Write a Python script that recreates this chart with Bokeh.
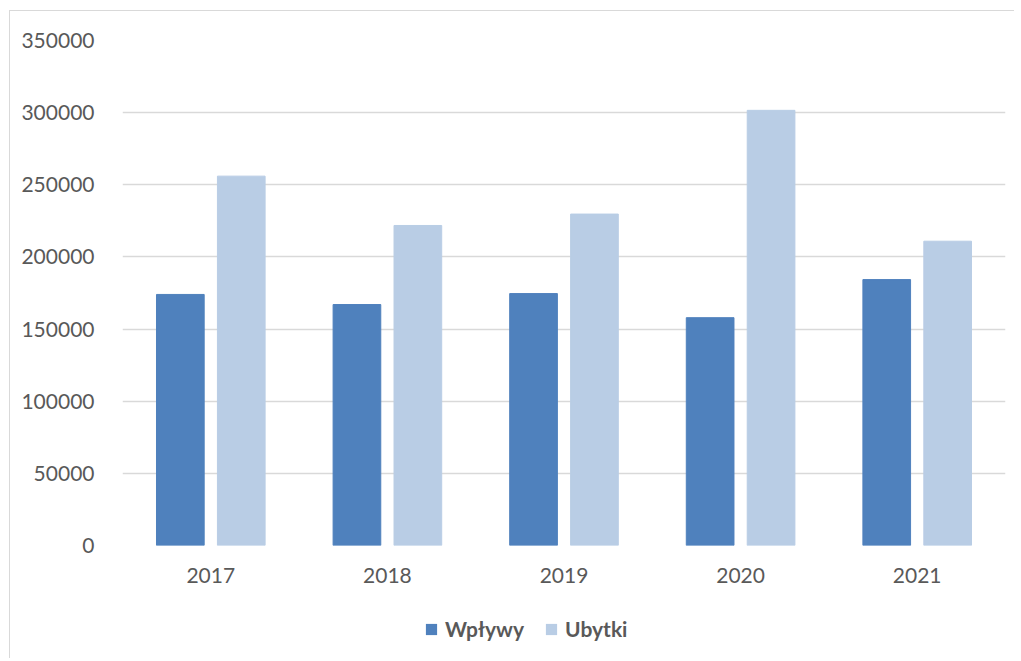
from bokeh.plotting import figure
from bokeh.layouts import column
from bokeh.models import (Range1d, FactorRange, Legend, LegendItem, ColumnDataSource,
                          FixedTicker, NumeralTickFormatter)
from bokeh.transform import dodge
from bokeh.embed import file_html
from bokeh.resources import INLINE

years = ["2017", "2018", "2019", "2020", "2021"]
wplywy = [174000, 167000, 174600, 157900, 184300]
ubytki = [256000, 221800, 229700, 301600, 210900]
series_names = ["Wpływy", "Ubytki"]
y_ticks = [0, 50000, 100000, 150000, 200000, 250000, 300000, 350000]

FONT = "Lato"
TXT = "#595959"
GRID = "#D9D9D9"
C1 = "#4F81BD"
C2 = "#B9CDE5"

src = ColumnDataSource(data=dict(year=years, wplywy=wplywy, ubytki=ubytki))

p = figure(width=1005, height=590, output_backend="svg", toolbar_location=None,
           x_range=FactorRange(*years, range_padding=0),
           y_range=Range1d(0, 350000),
           min_border_left=112, min_border_right=10, min_border_top=29, min_border_bottom=56)
p.margin = (10, 0, 0, 9)
p.styles = {"border-left": "1px solid #D9D9D9", "border-top": "1px solid #D9D9D9"}
p.outline_line_color = None
p.background_fill_color = "white"
p.border_fill_color = "white"

p.vbar(x=dodge("year", -0.1725, range=p.x_range), top="wplywy", width=0.27,
       source=src, fill_color=C1, line_color=C1)
p.vbar(x=dodge("year", 0.1725, range=p.x_range), top="ubytki", width=0.27,
       source=src, fill_color=C2, line_color=C2)

p.xgrid.grid_line_color = None
p.ygrid.grid_line_color = GRID
p.ygrid.grid_line_width = 1.5
p.ygrid.ticker = FixedTicker(ticks=y_ticks)

p.yaxis.ticker = FixedTicker(ticks=y_ticks)
p.yaxis.formatter = NumeralTickFormatter(format="0")
for ax in (p.xaxis[0], p.yaxis[0]):
    ax.axis_line_color = None
    ax.major_tick_line_color = None
    ax.minor_tick_line_color = None
    ax.major_label_text_font = FONT
    ax.major_label_text_font_size = "21px"
    ax.major_label_text_color = TXT
p.yaxis.major_label_standoff = 22
p.xaxis.major_label_standoff = 16

# legend strip below the chart (its zero-width bars are never visible)
pl = figure(width=1005, height=58, output_backend="svg", toolbar_location=None,
            x_range=FactorRange(*years, range_padding=0), y_range=Range1d(-3e6, -2e6),
            x_axis_type=None, y_axis_type=None, min_border=0)
pl.margin = (0, 0, 0, 9)
pl.styles = {"border-left": "1px solid #D9D9D9"}
pl.outline_line_color = None
pl.grid.grid_line_color = None
l1 = pl.vbar(x="year", top="wplywy", width=0, source=src, fill_color=C1, line_color=None)
l2 = pl.vbar(x="year", top="ubytki", width=0, source=src, fill_color=C2, line_color=None)

legend = Legend(items=[LegendItem(label=series_names[0], renderers=[l1]),
                       LegendItem(label=series_names[1], renderers=[l2])],
                orientation="horizontal", location=(302, 17),
                label_text_font=FONT, label_text_font_size="21px",
                label_text_font_style="bold", label_text_color=TXT,
                glyph_width=14, glyph_height=14, label_standoff=7, spacing=20,
                padding=0, margin=0, border_line_color=None, background_fill_alpha=0)
pl.add_layout(legend)

layout = column(p, pl, spacing=0)
open("out.html", "w").write(file_html(layout, INLINE))
